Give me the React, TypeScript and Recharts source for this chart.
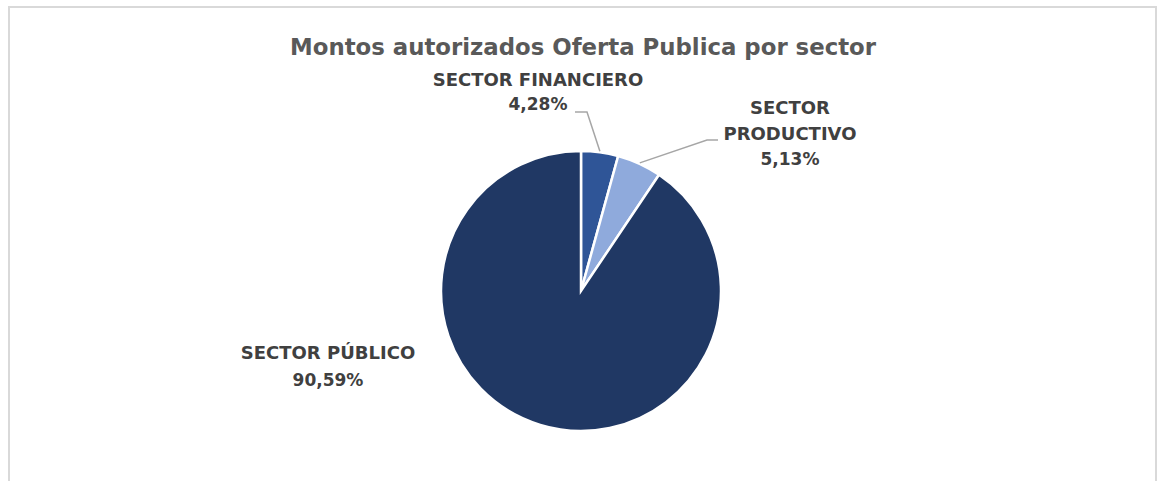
import React from 'react';
import { PieChart, Pie, Cell } from 'recharts';

const categories = ['SECTOR FINANCIERO', 'SECTOR PRODUCTIVO', 'SECTOR PÚBLICO'];
const shares = [4.28, 5.13, 90.59];
const colors = ['#2F5597', '#8FAADC', '#203864'];
const labelNameLines = [['SECTOR FINANCIERO'], ['SECTOR', 'PRODUCTIVO'], ['SECTOR PÚBLICO']];
const title = 'Montos autorizados Oferta Publica por sector';

const data = categories.map((name, i) => ({ name, value: shares[i] }));

// label layout, relative to the pie centre
const labelLayout = [
  { dx: -43, dy: -205, lh: 24, leader: [[-6, -179], [6, -179]] },
  { dx: 209, dy: -177, lh: 25.5, leader: [[137, -151], [126, -151]] },
  { dx: -253, dy: 68, lh: 26.5, leader: null as null | number[][] },
];

const FONT = "'Century Gothic', 'DejaVu Sans', sans-serif";
const RAD = Math.PI / 180;

const fmt = (v: number) => v.toFixed(2).replace('.', ',') + '%';

const renderLabel = (props: any) => {
  const { cx, cy, midAngle, outerRadius, index, value } = props;
  const L = labelLayout[index];
  const names = labelNameLines[index];
  const x = cx + L.dx;
  let leader = null;
  if (L.leader) {
    const ex = cx + Math.cos(-midAngle * RAD) * (outerRadius + 1);
    const ey = cy + Math.sin(-midAngle * RAD) * (outerRadius + 1);
    const pts = [...L.leader.map(([a, b]) => [cx + a, cy + b]), [ex, ey]];
    leader = (
      <polyline
        points={pts.map((p) => p.join(',')).join(' ')}
        fill="none"
        stroke="#a6a6a6"
        strokeWidth={1.5}
      />
    );
  }
  return (
    <g key={`lbl-${index}`}>
      {leader}
      <text
        x={x}
        y={cy + L.dy}
        textAnchor="middle"
        fill="#404040"
        fontFamily={FONT}
        fontWeight="bold"
        fontSize={18}
      >
        {names.map((t, i) => (
          <tspan key={i} x={x} dy={i === 0 ? 0 : L.lh}>
            {t}
          </tspan>
        ))}
        <tspan x={x} dy={L.lh} fontSize={17}>
          {fmt(value)}
        </tspan>
      </text>
    </g>
  );
};

export default function App() {
  return (
    <div style={{ position: 'absolute', left: 0, top: 0, width: 1157, height: 481, overflow: 'hidden', background: '#fff' }}>
      <div
        style={{
          position: 'absolute',
          left: 8,
          top: 6,
          width: 1145,
          height: 520,
          border: '2px solid #d9d9d9',
        }}
      />
      <svg style={{ position: 'absolute', left: 0, top: 0 }} width={1157} height={481}>
        <text
          x={583}
          y={55}
          textAnchor="middle"
          fill="#595959"
          fontFamily={FONT}
          fontWeight="bold"
          fontSize={23}
          textLength={586}
          lengthAdjust="spacingAndGlyphs"
        >
          {title}
        </text>
      </svg>
      <div style={{ position: 'absolute', left: 0, top: 0 }}>
        <PieChart width={1157} height={481} margin={{ top: 0, right: 0, bottom: 0, left: 0 }}>
          <Pie
            data={data}
            dataKey="value"
            nameKey="name"
            cx={581}
            cy={291}
            outerRadius={140}
            startAngle={90}
            endAngle={-270}
            stroke="#ffffff"
            strokeWidth={2.5}
            label={renderLabel}
            labelLine={false}
            isAnimationActive={false}
          >
            {data.map((d, i) => (
              <Cell key={d.name} fill={colors[i]} />
            ))}
          </Pie>
        </PieChart>
      </div>
    </div>
  );
}
